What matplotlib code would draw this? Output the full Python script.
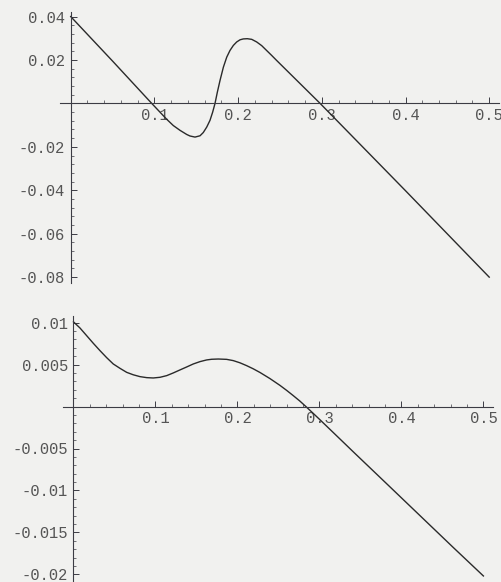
import matplotlib
matplotlib.use("Agg")
import matplotlib.pyplot as plt
from matplotlib.ticker import FixedLocator, MultipleLocator

# ---- data ----
top_x = [0.0, 0.05, 0.0968, 0.1147, 0.1226, 0.1306, 0.1386, 0.1425, 0.1485, 0.1545,
         0.1584, 0.1625, 0.1664, 0.1696, 0.1724, 0.1752, 0.1784, 0.1824, 0.1864, 0.1903,
         0.1943, 0.1983, 0.2023, 0.2062, 0.2110, 0.2163, 0.2222, 0.2282, 0.2340, 0.2401,
         0.2460, 0.2980, 0.40, 0.50]
top_y = [0.040, 0.0195, 0.0, -0.0073, -0.0102, -0.0124, -0.0143, -0.0150, -0.0155, -0.0149,
         -0.0134, -0.0109, -0.0078, -0.0040, 0.0, 0.0052, 0.0106, 0.0167, 0.0213, 0.0244,
         0.0267, 0.0283, 0.0293, 0.0297, 0.0298, 0.0295, 0.0283, 0.0266, 0.0244, 0.0221,
         0.0198, 0.0, -0.0402, -0.080]

bot_x = [0.0, 0.0079, 0.0161, 0.0242, 0.0323, 0.0405, 0.0485, 0.0567, 0.0649, 0.0729,
         0.0811, 0.0893, 0.0973, 0.1055, 0.1137, 0.1217, 0.1299, 0.1380, 0.1461, 0.1543,
         0.1624, 0.1685, 0.1766, 0.1868, 0.1949, 0.2030, 0.2112, 0.2193, 0.2274, 0.2396,
         0.2518, 0.2600, 0.2680, 0.2762, 0.2835, 0.2924, 0.3006, 0.3168, 0.3412, 0.3820,
         0.4226, 0.4632, 0.50]
bot_y = [0.0101, 0.00937, 0.00845, 0.00754, 0.00667, 0.00583, 0.00508, 0.00456, 0.00408, 0.00379,
         0.00357, 0.00345, 0.00341, 0.00349, 0.00369, 0.00401, 0.00437, 0.00472, 0.00508, 0.00536,
         0.00556, 0.00564, 0.00567, 0.00563, 0.00548, 0.00522, 0.00488, 0.00450, 0.00407, 0.00334,
         0.00253, 0.00193, 0.00131, 0.00065, 0.0, -0.00081, -0.00157, -0.00309, -0.00539, -0.0092,
         -0.01300, -0.01680, -0.0202]

x_ticks = [0.1, 0.2, 0.3, 0.4, 0.5]
x_tick_labels = ["0.1", "0.2", "0.3", "0.4", "0.5"]
top_y_ticks = [0.04, 0.02, -0.02, -0.04, -0.06, -0.08]
top_y_labels = ["0.04", "0.02", "-0.02", "-0.04", "-0.06", "-0.08"]
bot_y_ticks = [0.01, 0.005, -0.005, -0.01, -0.015, -0.02]
bot_y_labels = ["0.01", "0.005", "-0.005", "-0.01", "-0.015", "-0.02"]

BG = "#f1f1ef"
LINE = "#2a2a2a"
AXC = "#3c3c44"
TXT = "#555555"
FONT = "Liberation Mono"
FS = 11.2

fig = plt.figure(figsize=(5.02, 5.82), dpi=100, facecolor=BG)

def style(ax, yticks, ylabels, ymin, ymax, yminor):
    ax.set_facecolor(BG)
    ax.set_xlim(-0.0128, 0.5117)
    ax.set_ylim(ymin, ymax)
    for s in ("top", "right"):
        ax.spines[s].set_visible(False)
    ax.spines["left"].set_position(("data", 0))
    ax.spines["bottom"].set_position(("data", 0))
    for s in ("left", "bottom"):
        ax.spines[s].set_color(AXC)
        ax.spines[s].set_linewidth(0.8)
    ax.xaxis.set_major_locator(FixedLocator(x_ticks))
    ax.set_xticklabels(x_tick_labels)
    ax.xaxis.set_minor_locator(MultipleLocator(0.02))
    ax.yaxis.set_major_locator(FixedLocator(yticks))
    ax.set_yticklabels(ylabels)
    ax.yaxis.set_minor_locator(MultipleLocator(yminor))
    ax.tick_params(which="major", direction="in", length=4, width=0.7, color=AXC,
                   labelsize=FS, labelcolor=TXT, pad=4)
    ax.tick_params(which="minor", direction="in", length=2, width=0.5, color=AXC)
    ax.tick_params(axis="x", which="major", pad=3)
    for lab in ax.get_xticklabels() + ax.get_yticklabels():
        lab.set_fontfamily(FONT)

ax1 = fig.add_axes([60/502, 1-283/582, 439/502, 271/582])
ax1.plot(top_x, top_y, color=LINE, lw=1.0, solid_joinstyle="round")
style(ax1, top_y_ticks, top_y_labels, -0.0827, 0.0421, 0.004)

ax2 = fig.add_axes([63/502, 1-581/582, 430/502, 265/582])
ax2.plot(bot_x, bot_y, color=LINE, lw=1.0, solid_joinstyle="round")
style(ax2, bot_y_ticks, bot_y_labels, -0.0208, 0.0108, 0.001)

fig.savefig("out.png", dpi=100, facecolor=BG)
